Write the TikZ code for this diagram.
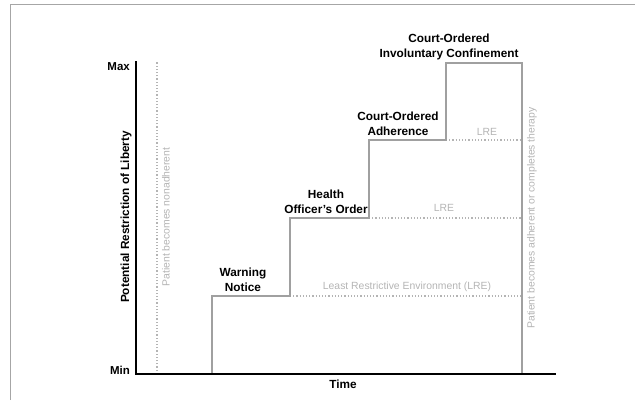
\documentclass[tikz,border=0pt]{standalone}
\usepackage{fontspec}
\setmainfont{Liberation Sans}
\usepackage{tikz}
\usetikzlibrary{arrows.meta}
\definecolor{stairgray}{RGB}{160,160,160}
\definecolor{notegray}{RGB}{180,180,180}

\begin{document}
\begin{tikzpicture}[x=1pt, y=1pt,
    axis/.style = {draw=black, line width=2.4pt},
    stair/.style = {draw=stairgray, line width=2pt},
    lre/.style = {draw=notegray, line width=1.2pt, dotted},
    stage/.style = {font=\fontsize{11.8}{14.5}\selectfont\bfseries, align=center, inner sep=0pt},
    note/.style = {text=notegray, font=\fontsize{10.4}{12}\selectfont, inner sep=0pt},
    tick/.style = {font=\fontsize{11.5}{12}\selectfont\bfseries, anchor=east, inner sep=0pt}]
            \useasboundingbox (0,0) rectangle (635,400);
            \draw[gray!70, line width=1pt] (10,0) -- (10,395) -- (635,395);

            \coordinate (O) at (136,26);
            \coordinate (Top) at (136,338);
            \coordinate (End) at (555,26);
            \coordinate (N0) at (157,26);
            \coordinate (N1) at (157,338);

            \coordinate (S0) at (212,26);
            \coordinate (S1) at (212,104);
            \coordinate (S2) at (290,104);
            \coordinate (S3) at (290,182);
            \coordinate (S4) at (369,182);
            \coordinate (S5) at (369,260);
            \coordinate (S6) at (446,260);
            \coordinate (S7) at (446,337);
            \coordinate (S8) at (522,337);
            \coordinate (S9) at (522,26);
            \coordinate (L1) at (522,104);
            \coordinate (L2) at (522,182);
            \coordinate (L3) at (522,260);

            \node[tick] (max) at (130,333) {Max};
            \node[tick] (min) at (130,30) {Min};
            \node[stage, rotate=90] (ylabel) at (126,183) {Potential Restriction of Liberty};
            \node[stage] (time) at (343,16) {Time};
            \node[note, rotate=90] (nonadh) at (166,183) {Patient becomes nonadherent};
            \node[note, rotate=90] (adh) at (532,182) {Patient becomes adherent or completes therapy};

            \node[stage] (warn) at (243,120) {Warning\\Notice};
            \node[stage] (health) at (326,198) {Health\\Officer's Order};
            \node[stage] (adhere) at (398,276) {Court-Ordered\\Adherence};
            \node[stage] (confine) at (449,353) {Court-Ordered\\Involuntary Confinement};

            \node[note] (lre1) at (407,113) {Least Restrictive Environment (LRE)};
            \node[note] (lre2) at (444,192) {LRE};
            \node[note] (lre3) at (487,268) {LRE};

            \path[lre] (N0) edge (N1);
            \path[lre] (S2) edge (L1);
            \path[lre] (S4) edge (L2);
            \path[lre] (S6) edge (L3);

            \draw[stair, line join=miter] (S0) -- (S1) -- (S2) -- (S3) -- (S4) -- (S5)
                -- (S6) -- (S7) -- (S8) -- (S9);

            \draw[axis, line cap=rect] (Top) -- (O) -- (End);
        \end{tikzpicture}
\end{document}
